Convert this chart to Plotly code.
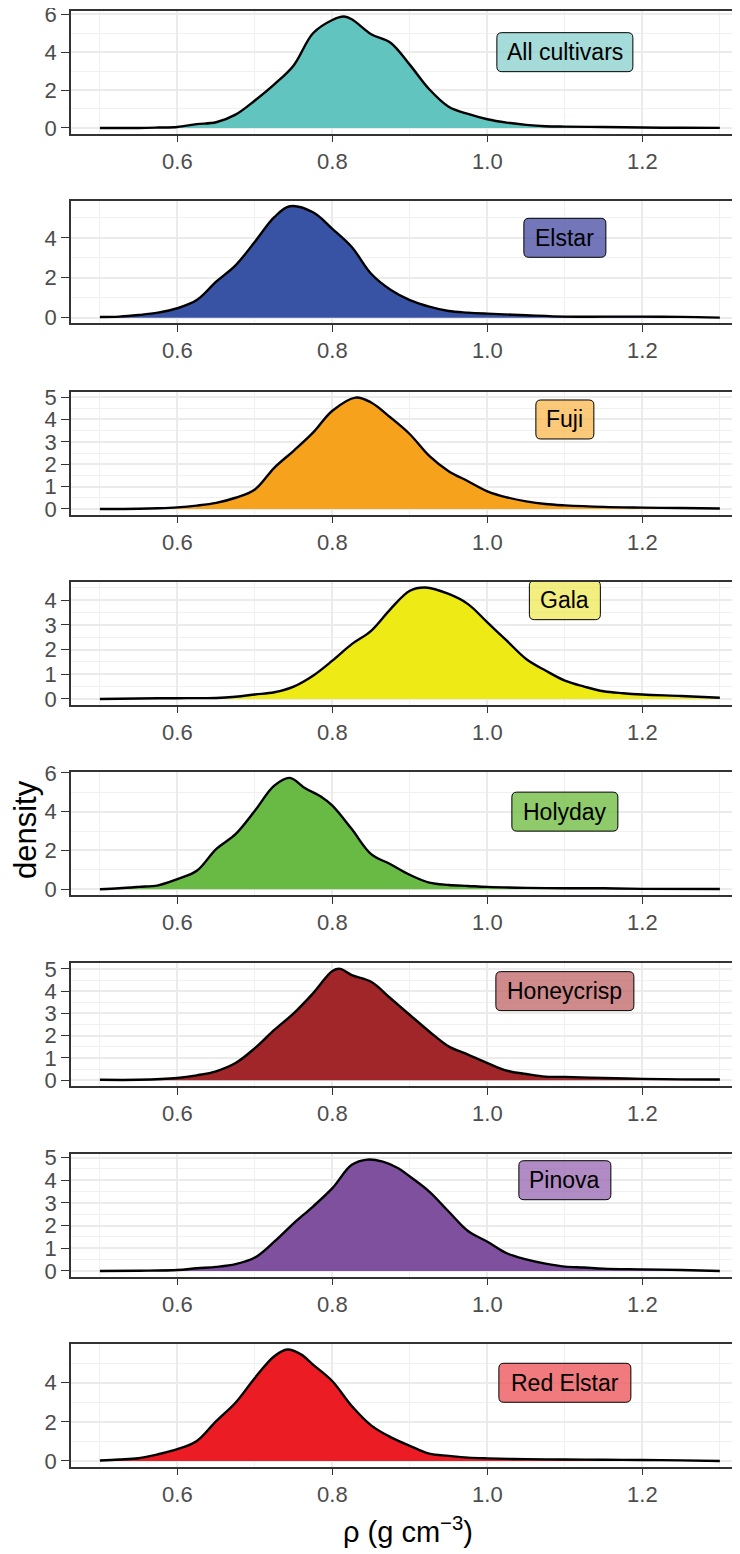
import plotly.graph_objects as go

# ---------------- data ----------------
cultivars = ["All cultivars", "Elstar", "Fuji", "Gala", "Holyday",
             "Honeycrisp", "Pinova", "Red Elstar"]

all_x = [0.5, 0.55, 0.575, 0.6, 0.625, 0.65, 0.675, 0.7, 0.725, 0.75, 0.775, 0.8, 0.815, 0.825,
         0.85, 0.875, 0.9, 0.925, 0.95, 0.975, 1.0, 1.025, 1.05, 1.075, 1.1, 1.15, 1.2, 1.25, 1.3]
all_y = [0, 0, 0.02, 0.05, 0.2, 0.3, 0.7, 1.45, 2.3, 3.3, 5.0, 5.7, 5.88, 5.74,
         4.95, 4.5, 3.33, 2.04, 1.12, 0.74, 0.46, 0.28, 0.16, 0.09, 0.07, 0.05, 0.02, 0.01, 0.005]

elstar_x = [0.5, 0.525, 0.55, 0.575, 0.6, 0.625, 0.65, 0.675, 0.7, 0.725, 0.745, 0.775, 0.8, 0.825,
            0.85, 0.875, 0.9, 0.925, 0.95, 0.975, 1.0, 1.05, 1.1, 1.15, 1.2, 1.25, 1.3]
elstar_y = [0.03, 0.05, 0.13, 0.25, 0.47, 0.88, 1.8, 2.62, 3.8, 5.03, 5.58, 5.28, 4.45, 3.54,
            2.2, 1.4, 0.88, 0.55, 0.33, 0.25, 0.2, 0.12, 0.05, 0.05, 0.05, 0.04, 0.0]

fuji_x = [0.5, 0.55, 0.575, 0.6, 0.625, 0.65, 0.675, 0.7, 0.725, 0.75, 0.775, 0.8, 0.83, 0.85,
          0.875, 0.9, 0.925, 0.95, 0.975, 1.0, 1.025, 1.05, 1.075, 1.1, 1.15, 1.2, 1.25, 1.3]
fuji_y = [0, 0.01, 0.03, 0.07, 0.15, 0.27, 0.5, 0.87, 1.84, 2.6, 3.41, 4.39, 4.98, 4.76,
          4.09, 3.34, 2.37, 1.69, 1.24, 0.79, 0.52, 0.34, 0.22, 0.16, 0.09, 0.06, 0.04, 0.02]

gala_x = [0.5, 0.55, 0.6, 0.65, 0.675, 0.7, 0.725, 0.75, 0.775, 0.8, 0.825, 0.85, 0.875, 0.9,
          0.92, 0.95, 0.975, 1.0, 1.025, 1.05, 1.075, 1.1, 1.125, 1.15, 1.175, 1.2, 1.25, 1.3]
gala_y = [0, 0.02, 0.03, 0.04, 0.09, 0.18, 0.27, 0.5, 0.94, 1.55, 2.22, 2.76, 3.64, 4.38,
          4.51, 4.25, 3.84, 3.1, 2.36, 1.62, 1.15, 0.74, 0.5, 0.31, 0.23, 0.18, 0.12, 0.05]

holyday_x = [0.5, 0.525, 0.55, 0.575, 0.6, 0.625, 0.65, 0.675, 0.7, 0.725, 0.745, 0.765, 0.785,
             0.8, 0.825, 0.85, 0.875, 0.9, 0.925, 0.95, 0.975, 1.0, 1.05, 1.1, 1.15, 1.2, 1.3]
holyday_y = [0, 0.05, 0.12, 0.2, 0.52, 0.95, 2.07, 2.84, 4.05, 5.34, 5.74, 5.2, 4.78,
             4.31, 3.1, 1.81, 1.29, 0.74, 0.34, 0.22, 0.17, 0.12, 0.07, 0.05, 0.05, 0.02, 0.01]

honeycrisp_x = [0.5, 0.55, 0.6, 0.625, 0.65, 0.675, 0.7, 0.725, 0.75, 0.775, 0.8, 0.81, 0.825, 0.85,
                0.875, 0.9, 0.925, 0.95, 0.975, 1.0, 1.025, 1.05, 1.075, 1.1, 1.15, 1.2, 1.25, 1.3]
honeycrisp_y = [0.02, 0.02, 0.1, 0.22, 0.4, 0.77, 1.44, 2.26, 3.0, 3.9, 4.9, 5.0, 4.72, 4.42,
                3.68, 2.93, 2.19, 1.52, 1.15, 0.77, 0.43, 0.28, 0.16, 0.15, 0.1, 0.06, 0.04, 0.03]

pinova_x = [0.5, 0.55, 0.6, 0.625, 0.65, 0.675, 0.7, 0.725, 0.75, 0.775, 0.8, 0.825, 0.845, 0.865,
            0.885, 0.9, 0.925, 0.95, 0.975, 1.0, 1.025, 1.05, 1.075, 1.1, 1.125, 1.15, 1.2, 1.25, 1.3]
pinova_y = [0, 0.01, 0.04, 0.12, 0.18, 0.3, 0.59, 1.29, 2.1, 2.84, 3.65, 4.68, 4.91, 4.82,
            4.53, 4.16, 3.5, 2.62, 1.76, 1.29, 0.78, 0.51, 0.32, 0.19, 0.15, 0.1, 0.07, 0.04, 0.0]

redelstar_x = [0.5, 0.525, 0.55, 0.575, 0.6, 0.625, 0.65, 0.675, 0.7, 0.725, 0.742, 0.76, 0.775, 0.8,
               0.825, 0.85, 0.875, 0.9, 0.925, 0.95, 0.975, 1.0, 1.05, 1.1, 1.15, 1.2, 1.25, 1.3]
redelstar_y = [0.02, 0.07, 0.14, 0.34, 0.6, 1.02, 2.04, 2.98, 4.25, 5.36, 5.7, 5.44, 4.93, 4.08,
               2.81, 1.82, 1.22, 0.77, 0.37, 0.26, 0.17, 0.13, 0.09, 0.07, 0.06, 0.05, 0.03, 0.0]

series_x = [all_x, elstar_x, fuji_x, gala_x, holyday_x, honeycrisp_x, pinova_x, redelstar_x]
series_y = [all_y, elstar_y, fuji_y, gala_y, holyday_y, honeycrisp_y, pinova_y, redelstar_y]

x_ticks = [0.6, 0.8, 1.0, 1.2]
label_pos = (1.1, 4)

# ---------------- styles ----------------
fill_colors = ["#62C4BE", "#3953A4", "#F7A21C", "#EEEA16", "#69BA45", "#A0262A", "#7E509E", "#EC1C24"]
box_colors = ["rgba(135,208,204,0.75)", "rgba(68,74,163,0.75)", "rgba(250,183,78,0.75)",
              "rgba(238,232,84,0.75)", "rgba(106,186,56,0.75)", "rgba(191,99,102,0.75)",
              "rgba(151,102,176,0.75)", "rgba(235,78,83,0.75)"]
box_w = [136, 82, 58, 71, 106, 138, 92, 132]
box_h = 39
y_dticks = [2, 2, 1, 1, 2, 1, 1, 2]

# the page body adds an 8 px margin, so the figure is laid out 8 px up/left
OFF = 8
W, H = 740 - OFF, 1554 - OFF
panel_left_px = 71 - OFF
panel_tops = [t - OFF for t in [11, 200.7, 392, 582, 772.3, 963.3, 1154, 1344]]
panel_h = 122.5
x_range = [0.4627, 1.326]

FONT = "Liberation Sans, Arial, sans-serif"
GRID = "#EBEBEB"
MINOR = "#F0F0F0"
AXC = "#333333"


def rounded_rect(w, h, r):
    a, b = w / 2, h / 2
    return (f"M {-a + r},{-b} L {a - r},{-b} Q {a},{-b} {a},{-b + r} "
            f"L {a},{b - r} Q {a},{b} {a - r},{b} L {-a + r},{b} "
            f"Q {-a},{b} {-a},{b - r} L {-a},{-b + r} Q {-a},{-b} {-a + r},{-b} Z")


fig = go.Figure()
layout = dict(
    width=W, height=H,
    margin=dict(l=0, r=0, t=0, b=0, autoexpand=False),
    paper_bgcolor="white", plot_bgcolor="white",
    showlegend=False,
    font=dict(family=FONT, size=22, color="#4D4D4D"),
)
shapes = []
annotations = []

for i, name in enumerate(cultivars):
    k = "" if i == 0 else str(i + 1)
    xa, ya = "xaxis" + k, "yaxis" + k
    xr, yr = "x" + k, "y" + k
    ymax = max(series_y[i])
    top = panel_tops[i]
    bot = top + panel_h
    fig.add_trace(go.Scatter(
        x=series_x[i], y=series_y[i], mode="lines",
        line=dict(color="black", width=2.4, shape="spline", smoothing=1.0),
        fill="tozeroy", fillcolor=fill_colors[i],
        xaxis=xr, yaxis=yr, hoverinfo="skip"))
    layout[xa] = dict(
        domain=[panel_left_px / W, 1.0], range=x_range, anchor=yr, automargin=False,
        tickmode="array", tickvals=x_ticks, ticktext=[f"{v:.1f}" for v in x_ticks],
        showgrid=True, gridcolor=GRID, gridwidth=1.6,
        minor=dict(dtick=0.1, tick0=0.5, showgrid=True, gridcolor=MINOR, gridwidth=1.0),
        showline=True, linecolor=AXC, linewidth=1.6, mirror=True,
        ticks="outside", ticklen=7, tickwidth=1.4, tickcolor=AXC,
        ticklabeloverflow="allow",
        tickfont=dict(size=22, color="#4D4D4D"), zeroline=False, fixedrange=True)
    dt = y_dticks[i]
    layout[ya] = dict(
        domain=[1 - bot / H, 1 - top / H], range=[-0.05 * ymax, 1.05 * ymax], anchor=xr,
        automargin=False,
        tickmode="linear", tick0=0, dtick=dt,
        showgrid=True, gridcolor=GRID, gridwidth=1.6,
        minor=dict(dtick=dt / 2, tick0=0, showgrid=True, gridcolor=MINOR, gridwidth=1.0),
        showline=True, linecolor=AXC, linewidth=1.6,
        ticks="outside", ticklen=8, tickwidth=1.4, tickcolor=AXC,
        ticklabeloverflow="allow",
        tickfont=dict(size=22, color="#4D4D4D"), zeroline=False, fixedrange=True)
    shapes.append(dict(
        type="path", xref=xr, yref=yr, xsizemode="pixel", ysizemode="pixel",
        xanchor=label_pos[0], yanchor=label_pos[1],
        path=rounded_rect(box_w[i], box_h, 5),
        fillcolor=box_colors[i], line=dict(color="black", width=1)))
    annotations.append(dict(
        x=label_pos[0], y=label_pos[1], xref=xr, yref=yr, text=name, showarrow=False,
        font=dict(family=FONT, size=23, color="black"), xanchor="center", yanchor="middle"))

annotations.append(dict(
    x=(25 - OFF) / W, y=1 - (830 - OFF) / H, xref="paper", yref="paper", text="density",
    textangle=-90, showarrow=False, font=dict(family=FONT, size=31, color="black"),
    xanchor="center", yanchor="middle"))
annotations.append(dict(
    x=(408 - OFF) / W, y=1 - (1530 - OFF) / H, xref="paper", yref="paper",
    text="ρ (g cm<sup>−3</sup>)", showarrow=False,
    font=dict(family=FONT, size=29, color="black"), xanchor="center", yanchor="middle"))

layout["shapes"] = shapes
layout["annotations"] = annotations
fig.update_layout(**layout)
fig.write_html("out.html")
